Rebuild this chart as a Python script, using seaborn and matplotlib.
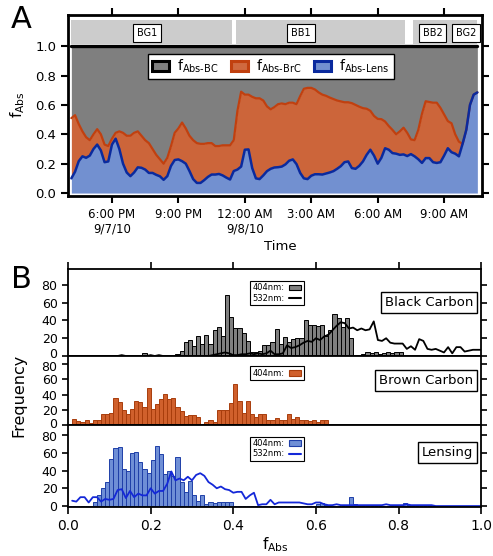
import numpy as np
import pandas as pd
import seaborn as sns
import matplotlib.pyplot as plt
import matplotlib.dates as mdates
from matplotlib.patches import Patch
from matplotlib.lines import Line2D
from matplotlib.transforms import ScaledTranslation

# ---------------- panel A data: 10 min steps, 4:10 PM 9/7/10 -> 10:30 AM 9/8/10
t_start = '2010-09-07 16:10'
n_points = 111
lens = [0.10, 0.145, 0.217, 0.25, 0.24, 0.255, 0.30, 0.33, 0.29, 0.21,
        0.215, 0.33, 0.37, 0.30, 0.20, 0.14, 0.115, 0.14, 0.175, 0.172,
        0.16, 0.137, 0.137, 0.124, 0.114, 0.09, 0.115, 0.185, 0.225, 0.229,
        0.217, 0.20, 0.15, 0.095, 0.069, 0.069, 0.088, 0.11, 0.126, 0.126,
        0.13, 0.12, 0.105, 0.092, 0.15, 0.16, 0.18, 0.295, 0.297, 0.17,
        0.10, 0.095, 0.12, 0.149, 0.165, 0.174, 0.176, 0.18, 0.195, 0.22,
        0.229, 0.197, 0.137, 0.10, 0.095, 0.118, 0.128, 0.128, 0.126, 0.133,
        0.14, 0.149, 0.165, 0.183, 0.21, 0.215, 0.17, 0.165, 0.185, 0.215,
        0.26, 0.295, 0.255, 0.20, 0.24, 0.305, 0.295, 0.272, 0.268, 0.26,
        0.263, 0.252, 0.265, 0.25, 0.23, 0.205, 0.238, 0.238, 0.21, 0.205,
        0.21, 0.255, 0.305, 0.278, 0.268, 0.25, 0.335, 0.43, 0.60, 0.67,
        0.685]
lens_brc = [0.51, 0.53, 0.47, 0.42, 0.38, 0.36, 0.40, 0.435, 0.40, 0.33,
            0.32, 0.37, 0.41, 0.42, 0.41, 0.39, 0.39, 0.41, 0.42, 0.39,
            0.36, 0.34, 0.30, 0.26, 0.23, 0.20, 0.24, 0.32, 0.41, 0.44,
            0.48, 0.44, 0.39, 0.36, 0.34, 0.335, 0.335, 0.34, 0.34, 0.32,
            0.32, 0.325, 0.325, 0.325, 0.36, 0.56, 0.69, 0.67, 0.67, 0.655,
            0.645, 0.645, 0.63, 0.59, 0.57, 0.585, 0.605, 0.61, 0.605, 0.615,
            0.615, 0.605, 0.66, 0.71, 0.716, 0.716, 0.705, 0.685, 0.67, 0.662,
            0.65, 0.64, 0.63, 0.624, 0.618, 0.618, 0.612, 0.60, 0.588, 0.578,
            0.574, 0.56, 0.525, 0.505, 0.503, 0.487, 0.456, 0.43, 0.40, 0.42,
            0.445, 0.41, 0.365, 0.36, 0.43, 0.54, 0.625, 0.62, 0.615, 0.615,
            0.58, 0.535, 0.49, 0.475, 0.40, 0.35, 0.335, 0.43, 0.60, 0.67,
            0.685]

seg_names = ['BG1', 'BB1', 'BB2', 'BG2']
seg_start = ['2010-09-07 16:10', '2010-09-07 23:36', '2010-09-08 07:35', '2010-09-08 09:36']
seg_end = ['2010-09-07 23:25', '2010-09-08 07:13', '2010-09-08 09:34', '2010-09-08 10:30']
seg_label_at = ['2010-09-07 19:35', '2010-09-08 02:32', '2010-09-08 08:29', '2010-09-08 10:00']

tick_times = ['2010-09-07 18:00', '2010-09-07 21:00', '2010-09-08 00:00',
              '2010-09-08 03:00', '2010-09-08 06:00', '2010-09-08 09:00']
tick_labels = ['6:00 PM\n9/7/10', '9:00 PM', '12:00 AM\n9/8/10',
               '3:00 AM', '6:00 AM', '9:00 AM']

# ---------------- panel B data: 0.01 wide bins from 0.00 to 1.00
bc_404 = [0, 0, 0, 0, 0, 0, 0, 0, 0, 0,
          0, 1, 0, 0, 1, 0, 1, 1, 3, 1,
          0, 1, 1, 0, 0, 1, 2, 6, 16, 18,
          11, 22, 13, 24, 14, 29, 33, 22, 69, 44,
          32, 32, 26, 17, 5, 4, 6, 12, 12, 16,
          30, 14, 21, 16, 19, 20, 20, 41, 35, 35,
          34, 35, 23, 29, 47, 43, 33, 43, 20, 1,
          1, 2, 4, 3, 4, 2, 3, 5, 3, 4,
          5, 0, 0, 0, 0, 0, 0, 0, 0, 0,
          0, 0, 0, 0, 0, 0, 0, 0, 0, 0]
bc_532 = [0, 0, 0, 0, 0, 0, 0, 0, 0, 0,
          0, 0, 0, 1, 0, 0, 0, 0, 0, 0,
          1, 0, 1, 0, 0, 0, 0, 0, 0, 0,
          0, 0, 0, 0, 0, 1, 2, 3, 4, 3,
          1, 1, 2, 2, 3, 2, 3, 2, 3, 6,
          2, 2, 3, 12, 9, 10, 12, 15, 17, 16,
          20, 18, 22, 24, 29, 34, 38, 37, 31, 32,
          29, 31, 29, 30, 39, 18, 17, 20, 15, 14,
          14, 14, 8, 11, 7, 19, 17, 8, 7, 8,
          6, 4, 10, 3, 10, 10, 5, 6, 7, 7,
          7]
brc_404 = [0, 8, 5, 4, 6, 2, 7, 6, 15, 15,
           16, 36, 30, 20, 14, 21, 32, 30, 24, 48,
           21, 28, 34, 41, 34, 35, 23, 18, 12, 13,
           13, 10, 1, 4, 7, 4, 20, 20, 20, 29,
           54, 31, 16, 32, 14, 10, 15, 15, 7, 7,
           9, 7, 6, 15, 8, 10, 7, 7, 5, 7,
           4, 6, 7, 0, 0, 0, 0, 0, 0, 0,
           0, 0, 0, 0, 0, 0, 0, 0, 0, 0,
           0, 0, 0, 0, 0, 0, 0, 0, 0, 0,
           0, 0, 0, 0, 0, 0, 0, 0, 0, 0]
lens_404 = [0, 0, 0, 0, 0, 0, 4, 13, 20, 27,
            53, 65, 66, 42, 40, 60, 61, 50, 42, 37,
            52, 68, 59, 36, 40, 34, 55, 27, 16, 28,
            13, 6, 13, 2, 5, 3, 4, 4, 4, 4,
            0, 0, 0, 0, 0, 0, 0, 0, 0, 0,
            0, 0, 0, 0, 0, 0, 0, 0, 0, 0,
            2, 3, 1, 0, 0, 0, 0, 0, 10, 2,
            1, 0, 0, 0, 0, 0, 0, 0, 0, 0,
            0, 3, 1, 0, 0, 0, 0, 0, 0, 0,
            0, 0, 0, 0, 0, 0, 0, 0, 0, 0]
lens_532 = [6, 5, 10, 10, 4, 10, 10, 5, 8, 7,
            8, 18, 19, 9, 17, 10, 14, 12, 12, 20,
            14, 17, 17, 25, 39, 29, 31, 29, 33, 29,
            35, 37, 34, 27, 24, 20, 22, 19, 18, 15,
            16, 16, 8, 12, 15, 1, 2, 2, 7, 2,
            4, 4, 4, 4, 4, 4, 3, 2, 2, 4,
            4, 2, 1, 1, 2, 1, 1, 1, 1, 1,
            1, 1, 1, 1, 1, 1, 2, 1, 1, 1,
            1, 2, 1, 1, 1, 1, 1, 1, 0, 0,
            0, 0, 0, 0, 0, 0, 0, 0, 0, 0]

# ---------------- style
sns.set_style("ticks", rc={'axes.edgecolor': 'black', 'xtick.color': 'black',
                           'ytick.color': 'black', 'text.color': 'black',
                           'axes.labelcolor': 'black'})
plt.rcParams['font.family'] = ['DejaVu Sans']
plt.rcParams['mathtext.fontset'] = 'dejavusans'

gray = '#7f7f7f'
or_fill, or_line = '#cc653a', '#c1400f'
bl_fill, bl_line = '#7290d0', '#0a2a9e'

fig = plt.figure(figsize=(4.93, 5.56), dpi=100)

# ================= panel A
times = pd.date_range(t_start, periods=n_points, freq='10min').to_pydatetime()
axA = fig.add_axes([0.138, 0.6475, 0.840, 0.3255])
axA.fill_between(times, lens_brc, 1.0, color=gray, lw=0)
axA.fill_between(times, lens, lens_brc, color=or_fill, lw=0)
axA.fill_between(times, 0, lens, color=bl_fill, lw=0)
sns.lineplot(x=times, y=np.ones(n_points), ax=axA, color='black', lw=2.4, legend=False)
sns.lineplot(x=times, y=lens_brc, ax=axA, color=or_line, lw=1.6, legend=False)
sns.lineplot(x=times, y=lens, ax=axA, color=bl_line, lw=1.8, legend=False)

for name, s, e, c in zip(seg_names, seg_start, seg_end, seg_label_at):
    axA.fill_between([pd.Timestamp(s), pd.Timestamp(e)], 1.015, 1.178,
                     color='#cccccc', lw=0)
    axA.text(pd.Timestamp(c), 1.09, name, ha='center', va='center', fontsize=7,
             bbox=dict(boxstyle='square,pad=0.4', fc='white', ec='black', lw=0.8))

axA.set_xlim(pd.Timestamp('2010-09-07 16:01'), pd.Timestamp('2010-09-08 10:43'))
axA.set_ylim(-0.02, 1.212)
axA.set_xticks([mdates.date2num(pd.Timestamp(t)) for t in tick_times])
axA.set_xticklabels(tick_labels, fontsize=8.5)
axA.set_yticks([0, 0.2, 0.4, 0.6, 0.8, 1.0])
axA.set_yticklabels(['0.0', '0.2', '0.4', '0.6', '0.8', '1.0'], fontsize=9.5)
axA.tick_params(axis='both', direction='out', length=5, width=1.5,
                top=True, right=True, labeltop=False, labelright=False)
for sp in axA.spines.values():
    sp.set_linewidth(2)
axA.set_xlabel('')
axA.set_ylabel('')

legA = axA.legend(handles=[Patch(fc=gray, ec='black', lw=2.2, label=r'f$_\mathregular{Abs‐BC}$'),
                           Patch(fc='#d0693f', ec=or_line, lw=2.2, label=r'f$_\mathregular{Abs‐BrC}$'),
                           Patch(fc=bl_fill, ec=bl_line, lw=2.2, label=r'f$_\mathregular{Abs‐Lens}$')],
                  loc='center', bbox_to_anchor=(0.49, 0.715), ncol=3, fontsize=10,
                  frameon=True, fancybox=False, edgecolor='black', framealpha=1,
                  handlelength=1.2, handleheight=0.7, columnspacing=0.9, handletextpad=0.6,
                  borderpad=0.3, borderaxespad=0)
legA.get_frame().set_linewidth(1)

fig.text(0.035, 1 - 105 / 556, r'f$_\mathregular{Abs}$', rotation=90, ha='center', va='center', fontsize=11)
fig.text(280 / 493, 1 - 246 / 556, 'Time', ha='center', va='center', fontsize=9.5)
fig.text(0.043, 1 - 20 / 556, 'A', ha='center', va='center', fontsize=22)
fig.text(0.043, 1 - 280 / 556, 'B', ha='center', va='center', fontsize=22)

# ================= panel B
edges = np.round(np.arange(0, 1.001, 0.01), 2)
centers = edges[:-1] + 0.005
hist_df = pd.DataFrame({'f': centers, 'bc': bc_404, 'brc': brc_404, 'lens': lens_404})

ax1 = fig.add_axes([0.138, 0.3597, 0.838, 0.1565])
ax2 = fig.add_axes([0.138, 0.2356, 0.838, 0.1241])
ax3 = fig.add_axes([0.138, 0.0881, 0.838, 0.1475])

hist_kw = dict(binwidth=0.01, binrange=(0, 1), linewidth=0.7, alpha=1)
sns.histplot(data=hist_df, x='f', weights='bc', ax=ax1, color=gray,
             edgecolor='black', **hist_kw)
sns.lineplot(x=edges, y=bc_532, ax=ax1, color='black', lw=1.3, legend=False)

sns.histplot(data=hist_df, x='f', weights='brc', ax=ax2, color='#d0602c',
             edgecolor='#a83d0c', **hist_kw)

sns.histplot(data=hist_df, x='f', weights='lens', ax=ax3, color='#6f8fd6',
             edgecolor='#1f3fa8', **hist_kw)
sns.lineplot(x=edges[1:], y=lens_532, ax=ax3, color='#1428d8', lw=1.3, legend=False)

panel_specs = [(ax1, (0, 98), 'Black Carbon', 0.61, gray, 'black', True, 'black'),
               (ax2, (0, 90.5), 'Brown Carbon', 0.64, '#d0602c', '#a83d0c', False, None),
               (ax3, (-1.1, 91.3), 'Lensing', 0.66, '#6f8fd6', '#1f3fa8', True, '#1428d8')]
for ax, ylim, title, ty, fc, ec, has_line, lc in panel_specs:
    ax.set_xlim(0, 1)
    ax.set_ylim(*ylim)
    ax.set_yticks([0, 20, 40, 60, 80])
    ax.set_yticklabels(['0', '20', '40', '60', '80'], fontsize=9)
    ax.set_xticks([0, 0.2, 0.4, 0.6, 0.8, 1.0])
    ax.set_xlabel('')
    ax.set_ylabel('')
    for sp in ax.spines.values():
        sp.set_linewidth(1.3)
    ax.tick_params(axis='y', direction='out', length=4, width=1.2, left=True, right=True)
    ax.tick_params(axis='x', direction='out', length=5, width=1.2,
                   bottom=False, top=False, labelbottom=False)
    ax.text(0.98, ty, title, transform=ax.transAxes, ha='right', va='center', fontsize=9.5,
            bbox=dict(boxstyle='square,pad=0.3', fc='white', ec='black', lw=1))
    handles = [Patch(fc=fc, ec=ec, lw=0.8, label='404nm:')]
    if has_line:
        handles.append(Line2D([], [], color=lc, lw=1.5, label='532nm:'))
    leg = ax.legend(handles=handles, loc='upper left', bbox_to_anchor=(0.43, 0.91),
                    markerfirst=False, fontsize=6, frameon=True, fancybox=False,
                    edgecolor='black', framealpha=1, handlelength=1.5, handleheight=0.6,
                    borderpad=0.3, labelspacing=0.15, handletextpad=0.5)
    leg.get_frame().set_linewidth(0.8)

ax1.tick_params(axis='x', top=True)
ax3.tick_params(axis='x', bottom=True, labelbottom=True, labelsize=10)
ax3.set_xticklabels(['0.0', '0.2', '0.4', '0.6', '0.8', '1.0'])


# small nudges so the "0" of one strip and the "80" of the next don't collide
def nudge(label, dy_pt):
    label.set_transform(label.get_transform() +
                        ScaledTranslation(0, dy_pt / 72, fig.dpi_scale_trans))


nudge(ax1.get_yticklabels()[0], 2.4)
nudge(ax2.get_yticklabels()[-1], -1.2)
nudge(ax2.get_yticklabels()[0], 1.5)
nudge(ax3.get_yticklabels()[-1], -1.0)

fig.text(0.038, 1 - 395 / 556, 'Frequency', rotation=90, ha='center', va='center', fontsize=11.5)
fig.text(275 / 493, 1 - 545 / 556, r'f$_\mathregular{Abs}$', ha='center', va='center', fontsize=11)

fig.savefig('out.png', dpi=100)
